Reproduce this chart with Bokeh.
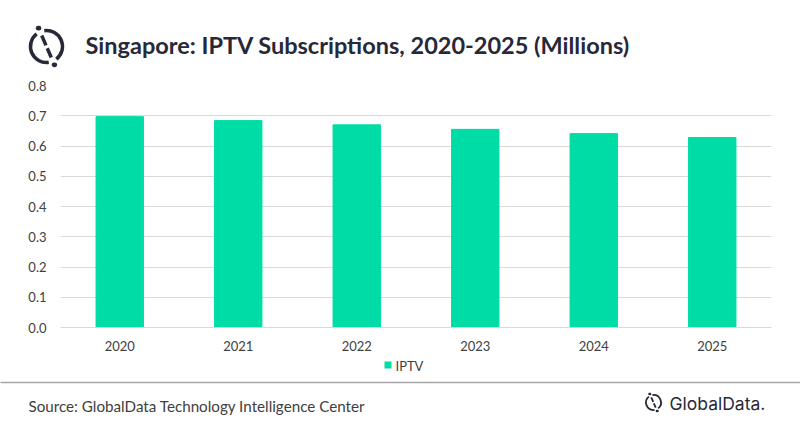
import numpy as np
from bokeh.plotting import figure
from bokeh.models import Range1d, FixedTicker, NumeralTickFormatter
from bokeh.core.properties import value
from bokeh.embed import file_html
from bokeh.resources import INLINE

years = ['2020', '2021', '2022', '2023', '2024', '2025']
iptv = [0.697, 0.684, 0.670, 0.655, 0.641, 0.628]
y_ticks = [0.0, 0.1, 0.2, 0.3, 0.4, 0.5, 0.6, 0.7, 0.8]
series_name = 'IPTV'

TITLE = 'Singapore: IPTV Subscriptions, 2020-2025 (Millions)'
SOURCE = 'Source: GlobalData Technology Intelligence Center'
BAR = '#00dca6'
NAVY = '#272838'
GREY_TXT = '#404040'

# bar slots 0..5, labelled with the years on the axis
slots = list(range(len(years)))

p = figure(x_range=Range1d(-0.5, len(years) - 0.5), y_range=Range1d(0, 0.8),
           width=800, height=428,
           min_border_left=60, min_border_right=29, min_border_top=85,
           min_border_bottom=101, output_backend='svg',
           toolbar_location=None)
bars = p.vbar(x=slots, top=iptv, width=0.4, color=BAR)

p.outline_line_color = None
p.xgrid.grid_line_color = None
p.ygrid.grid_line_color = '#d9d9d9'
p.xaxis.ticker = FixedTicker(ticks=slots)
p.xaxis.major_label_overrides = dict(zip(slots, years))
p.yaxis.ticker = FixedTicker(ticks=y_ticks)
p.yaxis.formatter = NumeralTickFormatter(format='0.0')
p.yaxis.axis_line_color = None
p.xaxis.axis_line_color = '#d9d9d9'
for ax in p.axis:
    ax.major_tick_line_color = None
    ax.minor_tick_line_color = None
    ax.major_label_text_font = 'Lato'
    ax.major_label_text_font_size = '13px'
    ax.major_label_text_color = GREY_TXT
p.yaxis.major_label_standoff = 8
p.xaxis.major_label_standoff = 7

# pixel ranges for the decoration around the chart: x = page x, y = -page y
p.extra_x_ranges = {'px': Range1d(60, 771)}
p.extra_y_ranges = {'py': Range1d(-327, -85)}
DECO = dict(x_range_name='px', y_range_name='py', level='overlay')


def dot(x, y, d):
    # markers outside the frame get culled, a short round-capped segment does not
    p.segment(x0=x - 0.3, y0=y, x1=x + 0.3, y1=y, line_color=NAVY,
              line_width=d, line_cap='round', **DECO)


def draw_logo(cx, cy, r, lw):
    """GlobalData mark: broken circle, split slash, two dots"""
    p.arc(x=cx, y=cy, radius=r, start_angle=np.radians(-52),
          end_angle=np.radians(98), line_color=NAVY, line_width=lw, **DECO)
    p.arc(x=cx, y=cy, radius=r, start_angle=np.radians(128),
          end_angle=np.radians(278), line_color=NAVY, line_width=lw, **DECO)
    ang = np.radians(113.4)
    dx, dy = np.cos(ang), np.sin(ang)
    p.segment(x0=cx + dx * r * 0.75, y0=cy + dy * r * 0.75,
              x1=cx + dx * r * 0.08, y1=cy + dy * r * 0.08,
              line_color=NAVY, line_width=lw, **DECO)
    p.segment(x0=cx - dx * r * 0.12, y0=cy - dy * r * 0.12,
              x1=cx - dx * r * 0.75, y1=cy - dy * r * 0.75,
              line_color=NAVY, line_width=lw, **DECO)
    dot(cx + dx * r * 1.25, cy + dy * r * 1.25, lw * 1.4)
    dot(cx - dx * r * 1.25, cy - dy * r * 1.25, lw * 1.4)


# header
draw_logo(46, -46, 16, 3.5)
p.text(x=[85], y=[-44], text=[TITLE], text_font=value('Lato'),
       text_font_style='bold', text_font_size='23.5px', text_color=NAVY,
       text_baseline='middle', text_align='left', **DECO)

# legend key under the axis (a Legend outside the frame is clipped or
# squeezes the frame, so it is drawn here)
p.segment(x0=384, y0=-364.5, x1=391, y1=-364.5, line_color=BAR,
          line_width=7, line_cap='butt', **DECO)
p.text(x=[395], y=[-365], text=[series_name], text_font=value('Lato'),
       text_font_size='13px', text_color=GREY_TXT,
       text_baseline='middle', text_align='left', **DECO)

# footer
p.segment(x0=0, y0=-382, x1=800, y1=-382, line_color='#a6a6a6',
          line_width=1.5, **DECO)
p.text(x=[28], y=[-405], text=[SOURCE], text_font=value('Lato'),
       text_font_size='15.2px', text_color=GREY_TXT,
       text_baseline='middle', text_align='left', **DECO)
draw_logo(653, -402, 7.5, 1.8)
p.text(x=[669], y=[-403], text=['GlobalData.'], text_font=value('Inter'),
       text_font_size='17.5px', text_color=NAVY,
       text_baseline='middle', text_align='left', **DECO)

open('out.html', 'w').write(file_html(p, INLINE))
